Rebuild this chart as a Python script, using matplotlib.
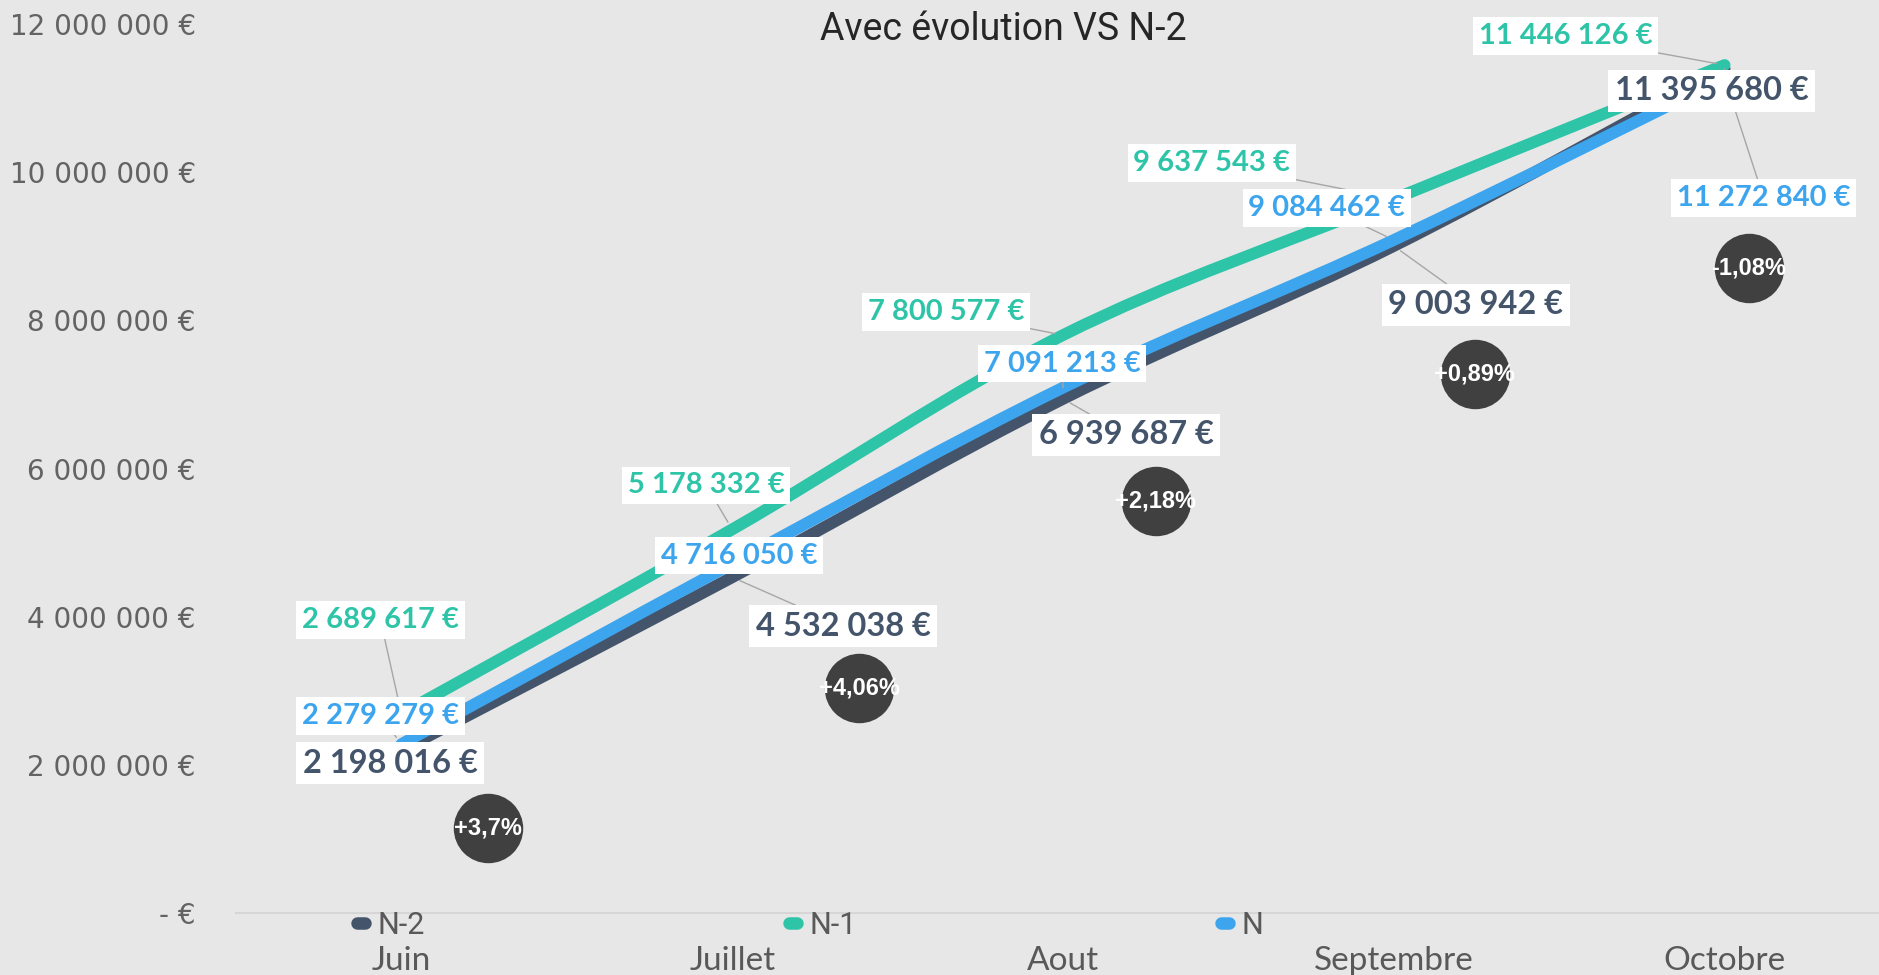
import numpy as np
import matplotlib
matplotlib.use('Agg')
import matplotlib.pyplot as plt
from matplotlib.path import Path
from matplotlib.patches import PathPatch
from matplotlib.lines import Line2D
from matplotlib.transforms import offset_copy

mois = ['Juin', 'Juillet', 'Aout', 'Septembre', 'Octobre']
n_2 = [2198016, 4532038, 6939687, 9003942, 11395680]
n_1 = [2689617, 5178332, 7800577, 9637543, 11446126]
n = [2279279, 4716050, 7091213, 9084462, 11272840]
evolution = ['+3,7%', '+4,06%', '+2,18%', '+0,89%', '-1,08%']
yticks = [0, 2000000, 4000000, 6000000, 8000000, 10000000, 12000000]

# decalage des etiquettes par rapport au point (pixels)
off_n1 = [(-21, 94), (-26, 44), (-117, 23), (-182, 36), (-159, 29)]
off_n = [(-21, 28), (7, 8), (-1, 24), (-67, 32), (39, -120)]
off_n2 = [(-11, -13), (111, -49), (63, -36), (82, -59), (-13, -22)]
off_evo = [(87, -84), (127, -124), (93, -113), (81, -134), (24, -190)]

c_n2 = '#44546a'
c_n1 = '#2dc4a8'
c_n = '#3da5ee'
fond = '#e7e7e7'


def euro(v):
    return f"{v:,.0f}".replace(',', ' ') + ' €'


def lisse(x, y):
    # courbe lissee facon excel (bezier catmull-rom)
    pts = np.column_stack([x, y]).astype(float)
    p = np.vstack([pts[0], pts, pts[-1]])
    verts = [pts[0]]
    codes = [Path.MOVETO]
    for i in range(len(pts) - 1):
        p0, p1, p2, p3 = p[i], p[i + 1], p[i + 2], p[i + 3]
        verts += [p1 + (p2 - p0) / 6, p2 - (p3 - p1) / 6, p2]
        codes += [Path.CURVE4] * 3
    return Path(verts, codes)


fig = plt.figure(figsize=(18.79, 9.75), dpi=100, facecolor=fond)
ax = fig.add_axes([236 / 1879, 62 / 975, 1654 / 1879, 889 / 975])
ax.set_facecolor(fond)
ax.set_xlim(-0.5, 4.5)
ax.set_ylim(0, 12000000)

x = np.arange(len(mois))
for serie, col, z in [(n_2, c_n2, 2), (n_1, c_n1, 3), (n, c_n, 4)]:
    ax.add_patch(PathPatch(lisse(x, serie), facecolor='none', edgecolor=col,
                           lw=8.5, capstyle='round', zorder=z))

for serie, offs, col, fs in [(n_1, off_n1, c_n1, 21), (n, off_n, c_n, 21),
                             (n_2, off_n2, c_n2, 23.5)]:
    for i, (v, (dx, dy)) in enumerate(zip(serie, offs)):
        ax.annotate(euro(v), xy=(i, v), xytext=(dx, dy), textcoords='offset pixels',
                    ha='center', va='center', fontsize=fs, color=col,
                    fontweight='bold', family='Lato',
                    bbox=dict(boxstyle='square,pad=0.2', fc='white', ec='none'),
                    arrowprops=dict(arrowstyle='-', color='#a6a6a6', lw=1,
                                    shrinkA=0, shrinkB=6),
                    zorder=5)

for i, (v, txt, (dx, dy)) in enumerate(zip(n, evolution, off_evo)):
    tr = offset_copy(ax.transData, fig=fig, x=dx, y=dy, units='dots')
    ax.plot([i], [v], 'o', ms=50, color='#404040', mec='none', transform=tr,
            zorder=6, clip_on=False)
    ax.text(i, v, txt, transform=tr, ha='center', va='center', color='white',
            fontsize=17, fontweight='bold', family='Liberation Sans', zorder=7)

ax.set_xticks(x, mois)
ax.set_yticks(yticks, ['- €' if t == 0 else euro(t) for t in yticks])
ax.tick_params(axis='x', length=0, pad=24, labelsize=24, labelcolor='#595959')
ax.tick_params(axis='y', length=0, pad=29, labelsize=20, labelcolor='#636363')
for lab in ax.get_xticklabels():
    lab.set_family('Lato')
for s in ['top', 'right', 'left']:
    ax.spines[s].set_visible(False)
ax.spines['bottom'].set_color('#d6d6d6')
ax.spines['bottom'].set_linewidth(1.5)

fig.text(1003 / 1879, 1 - 30 / 975, 'Avec évolution VS N-2', ha='center', va='center',
         fontsize=27, family='Roboto', color='#262626')

handles = [Line2D([0], [0], color=c, lw=9, solid_capstyle='round') for c in [c_n2, c_n1, c_n]]
fig.legend(handles, ['N-2', 'N-1', 'N'], loc='center left',
           bbox_to_anchor=(357 / 1879, 50 / 975), ncol=3, frameon=False,
           handlelength=0.26, handletextpad=0.4, columnspacing=11.93,
           borderpad=0, borderaxespad=0,
           prop={'family': 'Roboto', 'size': 22}, labelcolor='#595959')

fig.savefig('out.png', dpi=100, facecolor=fond)
